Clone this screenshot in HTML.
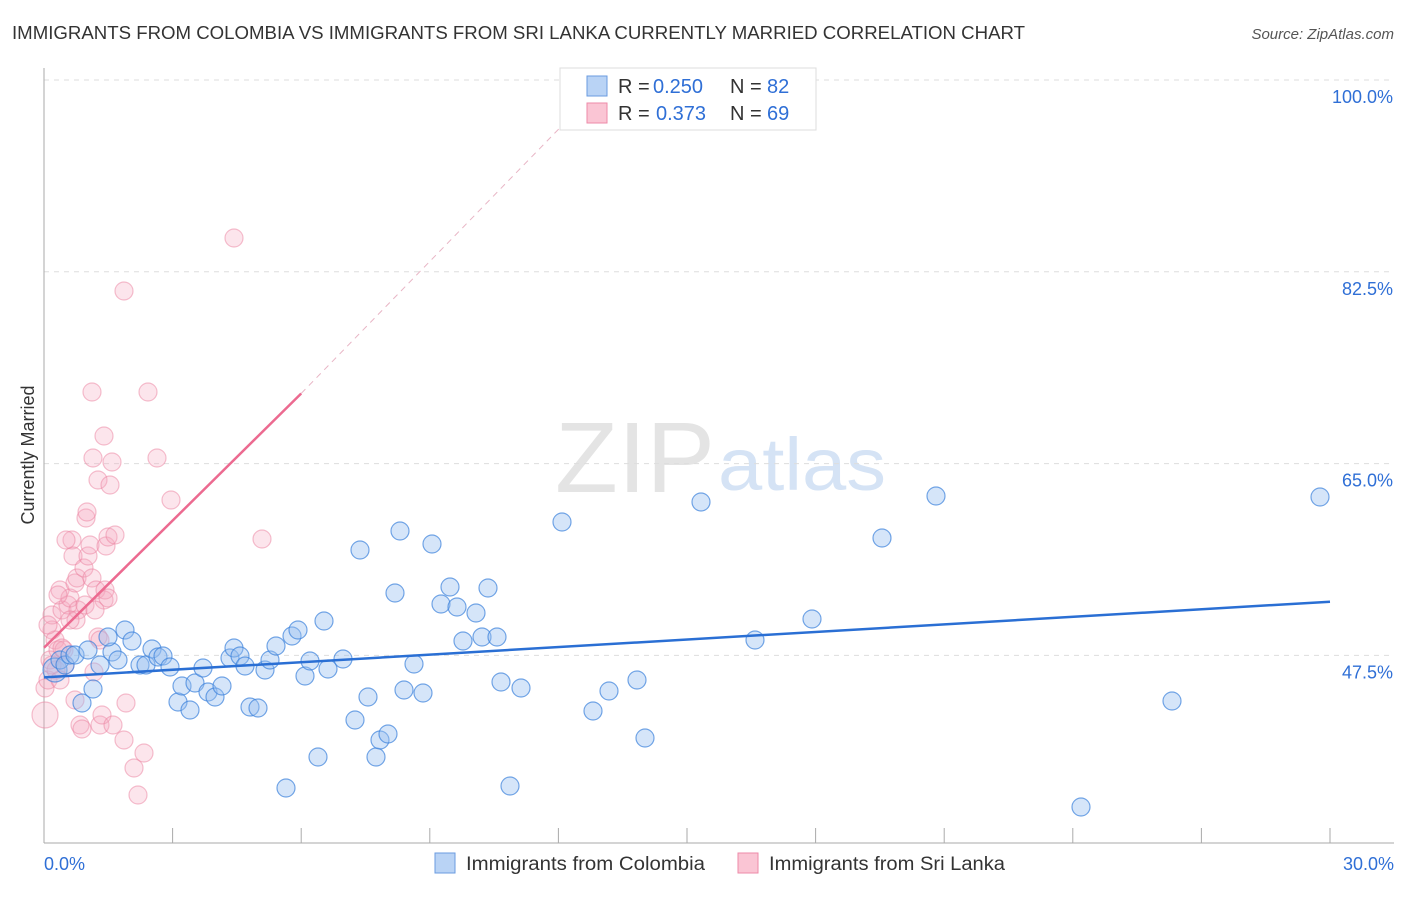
<!DOCTYPE html>
<html><head><meta charset="utf-8"><style>
body{margin:0;background:#fff;font-family:"Liberation Sans",sans-serif}
svg text{font-family:"Liberation Sans",sans-serif}
</style></head><body>
<svg id="c" width="1406" height="892">
<text x="12" y="39" font-size="18" fill="#333" textLength="1013" lengthAdjust="spacingAndGlyphs">IMMIGRANTS FROM COLOMBIA VS IMMIGRANTS FROM SRI LANKA CURRENTLY MARRIED CORRELATION CHART</text>
<text x="1394" y="39" font-size="15" fill="#555" text-anchor="end" font-style="italic">Source: ZipAtlas.com</text>
<text x="34" y="455" font-size="18" fill="#333" text-anchor="middle" transform="rotate(-90 34 455)">Currently Married</text>
<text x="555" y="492" font-size="100" fill="#e4e4e4" textLength="160" lengthAdjust="spacingAndGlyphs" font-family="Liberation Serif">ZIP</text>
<text x="718" y="490" font-size="74" fill="#d5e3f5" textLength="168" lengthAdjust="spacingAndGlyphs">atlas</text>
<g id="grid"></g><g id="pts"></g><g id="lines"></g>
<g>
<rect x="560" y="68" width="256" height="62" fill="#fff" stroke="#ddd"/>
<rect x="587" y="76" width="20" height="20" fill="#b9d3f5" stroke="#6a9be0"/>
<rect x="587" y="103" width="20" height="20" fill="#fac5d4" stroke="#ee8aa8"/>
<text x="618" y="93" font-size="20" fill="#333">R =</text>
<text x="653" y="93" font-size="20" fill="#2f6fd6">0.250</text>
<text x="730" y="93" font-size="20" fill="#333">N =</text>
<text x="767" y="93" font-size="20" fill="#2f6fd6">82</text>
<text x="618" y="120" font-size="20" fill="#333">R =</text>
<text x="656" y="120" font-size="20" fill="#2f6fd6">0.373</text>
<text x="730" y="120" font-size="20" fill="#333">N =</text>
<text x="767" y="120" font-size="20" fill="#2f6fd6">69</text>
</g>
<g>
<rect x="435" y="853" width="20" height="20" fill="#b9d3f5" stroke="#6a9be0"/>
<text x="466" y="870" font-size="19" fill="#333" textLength="239" lengthAdjust="spacingAndGlyphs">Immigrants from Colombia</text>
<rect x="738" y="853" width="20" height="20" fill="#fac5d4" stroke="#ee8aa8"/>
<text x="769" y="870" font-size="19" fill="#333" textLength="236" lengthAdjust="spacingAndGlyphs">Immigrants from Sri Lanka</text>
</g>
</svg>
<script>
const xTickLabels=["0.0%","30.0%"];
const yTicks=[100,82.5,65,47.5];
const blueX=[55,60,65,70,75,82,88,93,100,112,118,125,108,132,140,146,152,158,163,170,178,182,190,195,203,208,215,222,230,234,240,245,250,258,265,270,276,286,292,298,305,310,318,324,328,343,355,360,368,376,380,388,395,400,404,414,423,432,441,450,457,463,476,482,488,497,501,510,521,562,593,609,637,645,701,755,812,882,936,1081,1172,1320].map(p=>(p-44)/1286*30);
const blueY=[670,660,665,655,655,703,650,689,665,652,660,630,637,641,665,665,649,657,656,667,702,686,710,683,668,692,697,686,658,648,656,666,707,708,670,660,646,788,636,630,676,661,757,621,669,659,720,550,697,757,740,734,593,531,690,664,693,544,604,587,607,641,613,637,588,637,682,786,688,522,711,691,680,738,502,640,619,538,496,807,701,497].map(p=>100-(p-80)/10.96);
const pinkX=[45,45,48,50,52,52,55,58,60,62,65,68,70,72,73,75,77,78,80,82,84,86,87,88,90,92,94,96,98,98,100,102,104,106,108,110,112,93,92,104,105,108,113,115,124,126,124,134,138,144,148,157,171,234,262,64,48,56,66,76,85,95,70,60,75,100,58,62,52].map(p=>(p-44)/1286*30);
const pinkY=[688,715,680,660,630,615,640,650,590,610,665,605,598,540,556,583,578,610,725,729,568,518,512,556,545,578,672,590,480,637,725,715,436,546,537,485,462,458,392,600,590,598,725,535,740,703,291,768,795,753,392,458,500,238,539,650,625,670,540,620,605,610,620,680,700,640,595,648,665].map(p=>100-(p-80)/10.96);
const blueLine=[[0,45.5],[30,52.4]];
const pinkLine=[[0,48.2],[6,71.4]];
const pinkDash=[[6,71.4],[12.2,96.3]];
const X=v=>44+v/30*1286, Y=v=>80+(100-v)*10.96;
const NS="http://www.w3.org/2000/svg";
function mk(t,a,p){const e=document.createElementNS(NS,t);for(const k in a)e.setAttribute(k,a[k]);p.appendChild(e);return e;}
const g=document.getElementById('grid');
yTicks.forEach(v=>{
 const l=mk('line',{x1:44,x2:1394,y1:Y(v),y2:Y(v),stroke:'#ddd','stroke-dasharray':'5,5'},g);
 
 
 const t=mk('text',{x:1393,y:Y(v)+23,'font-size':18,fill:'#2f6fd6','text-anchor':'end'},g);t.textContent=v.toFixed(1)+'%';
 
 
});
mk('line',{x1:44,x2:44,y1:68,y2:843,stroke:'#aaa'},g);
mk('line',{x1:44,x2:1394,y1:843,y2:843,stroke:'#aaa'},g);
for(let i=0;i<=10;i++){const tk=mk('line',{x1:X(i*3),x2:X(i*3),y1:828,y2:843,stroke:'#aaa'},g);
 
 }
[[0,'start',44],[1,'end',1394]].forEach(([i,a,x])=>{const t=mk('text',{x:x,y:870,'font-size':18,fill:'#2f6fd6','text-anchor':a},g);t.textContent=xTickLabels[i];
 
 });
const P=document.getElementById('pts');
pinkX.forEach((x,i)=>{const c=mk('circle',{cx:X(x),cy:Y(pinkY[i]),r:i==1?13:9,fill:'rgba(246,170,192,0.3)',stroke:'rgba(236,130,160,0.5)','stroke-width':1.2},P);
 
 });
blueX.forEach((x,i)=>{const c=mk('circle',{cx:X(x),cy:Y(blueY[i]),r:i==0?12:9,fill:'rgba(150,190,240,0.4)',stroke:'rgba(60,130,220,0.7)','stroke-width':1.2},P);
 
 });
const L=document.getElementById('lines');
const bl=mk('line',{x1:X(blueLine[0][0]),y1:Y(blueLine[0][1]),x2:X(blueLine[1][0]),y2:Y(blueLine[1][1]),stroke:'#2a6fd4','stroke-width':2.5},L);


const pl=mk('line',{x1:X(pinkLine[0][0]),y1:Y(pinkLine[0][1]),x2:X(pinkLine[1][0]),y2:Y(pinkLine[1][1]),stroke:'#ec6a90','stroke-width':2.5},L);


const pd=mk('line',{x1:X(pinkDash[0][0]),y1:Y(pinkDash[0][1]),x2:X(pinkDash[1][0]),y2:Y(pinkDash[1][1]),stroke:'#e8b5c5','stroke-width':1,'stroke-dasharray':'6,5'},L);


</script>
</body></html>
